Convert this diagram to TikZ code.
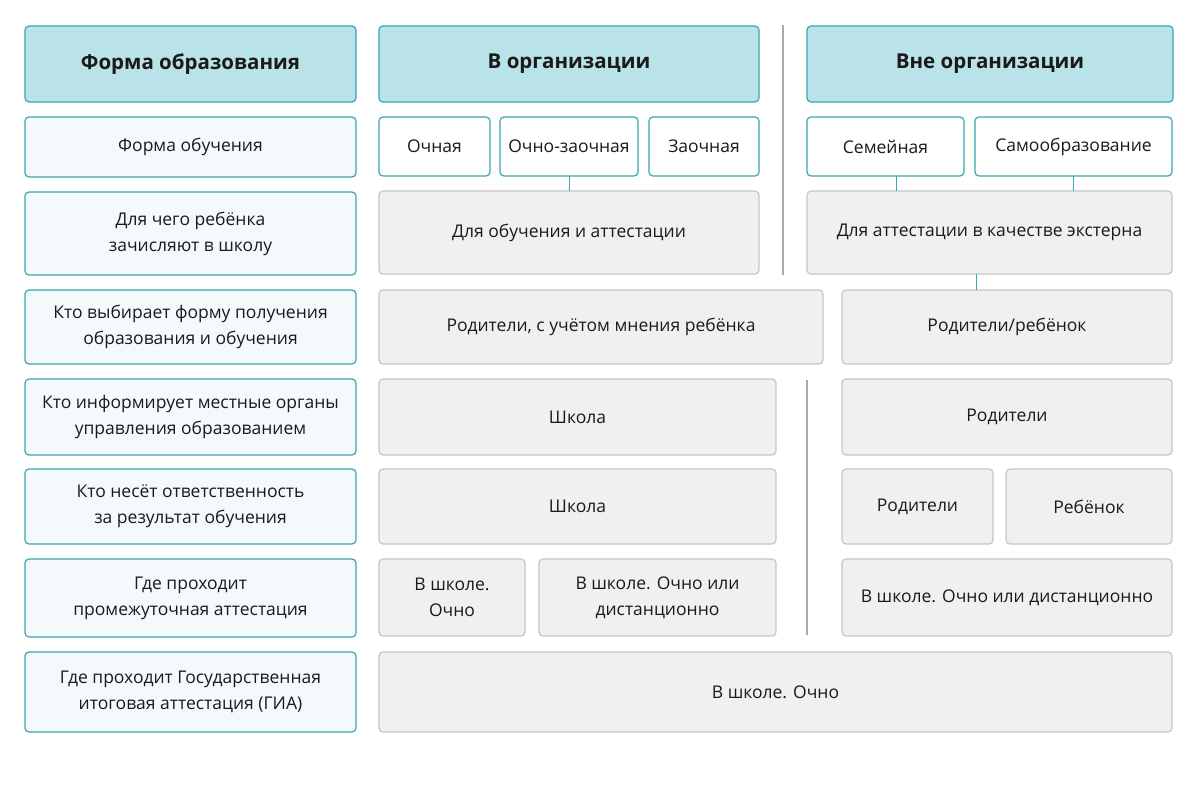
\documentclass[tikz,border=0pt]{standalone}
\usepackage{fontspec}
\setmainfont{Open Sans}
\definecolor{hdrfill}{HTML}{B9E3E8}
\definecolor{tealc}{HTML}{3AA6AE}
\definecolor{lblfill}{HTML}{F4FAFB}
\definecolor{grayfill}{HTML}{F0F0F0}
\definecolor{grayline}{HTML}{C6C6C6}
\definecolor{sepline}{HTML}{A2ACB3}
\definecolor{txt}{HTML}{1A1A1A}
\newcommand\mybox[7]{%
  \node[#1, minimum width={(#5-#3)*1pt}, minimum height={(#6-#4)*1pt}]
    (#2) at ({(#3+#5)/2},{(#4+#6)/2}) {#7};}
\tikzset{
  base/.style={rectangle, rounded corners=4pt, inner sep=0pt, outer sep=0pt,
    line width=1.2pt, align=center, text=txt, font=\fontsize{17.5}{26}\selectfont},
  hdr/.style={base, draw=tealc, fill=hdrfill, font=\fontsize{20.5}{24}\selectfont\bfseries},
  lbl/.style={base, draw=tealc, fill=lblfill},
  opt/.style={base, draw=tealc, fill=white},
  cell/.style={base, draw=grayline, fill=grayfill},
  conn/.style={draw=tealc, line width=1pt},
  sep/.style={draw=sepline, line width=1.2pt}
}
\begin{document}
\begin{tikzpicture}[x=1pt,y=-1pt]
\useasboundingbox[fill=white] (0,0) rectangle (1200,800);
% left labels
\mybox{hdr}{h1}{25}{26}{356}{102}{Форма образования}
\mybox{lbl}{l2}{25}{117}{356}{177}{Форма обучения}
\mybox{lbl}{l3}{25}{192}{356}{275}{Для чего ребёнка\\зачисляют в школу}
\mybox{lbl}{l4}{25}{290}{356}{364}{Кто выбирает форму получения\\образования и обучения}
\mybox{lbl}{l5}{25}{379}{356}{455}{Кто информирует местные органы\\управления образованием}
\mybox{lbl}{l6}{25}{469}{356}{544}{Кто несёт ответственность\\за результат обучения}
\mybox{lbl}{l7}{25}{559}{356}{637}{Где проходит\\промежуточная аттестация}
\mybox{lbl}{l8}{25}{652}{356}{732}{Где проходит Государственная\\итоговая аттестация (ГИА)}
% middle
\mybox{hdr}{h2}{379}{26}{759}{102}{В организации}
\mybox{opt}{och}{379}{117}{490}{176}{Очная}
\mybox{opt}{ochz}{500}{117}{638}{176}{Очно-заочная}
\mybox{opt}{zao}{649}{117}{759}{176}{Заочная}
\mybox{cell}{m3}{379}{191}{759}{274}{Для обучения и аттестации}
\mybox{cell}{m4}{379}{290}{823}{364}{Родители, с учётом мнения ребёнка}
\mybox{cell}{m5}{379}{379}{776}{455}{Школа}
\mybox{cell}{m6}{379}{469}{776}{544}{Школа}
\mybox{cell}{m7a}{379}{559}{525}{636}{В школе.\\Очно}
\mybox{cell}{m7b}{539}{559}{776}{636}{В школе. Очно или\\дистанционно}
\mybox{cell}{m8}{379}{652}{1172}{732}{В школе. Очно}
% right
\mybox{hdr}{h3}{807}{26}{1173}{102}{Вне организации}
\mybox{opt}{sem}{807}{117}{964}{176}{Семейная}
\mybox{opt}{sam}{975}{117}{1172}{176}{Самообразование}
\mybox{cell}{ext}{807}{191}{1172}{274}{Для аттестации в качестве экстерна}
\mybox{cell}{r4}{842}{290}{1172}{364}{Родители/ребёнок}
\mybox{cell}{r5}{842}{379}{1172}{455}{Родители}
\mybox{cell}{r6a}{842}{469}{993}{544}{Родители}
\mybox{cell}{r6b}{1006}{469}{1172}{544}{Ребёнок}
\mybox{cell}{r7}{842}{559}{1172}{636}{В школе. Очно или дистанционно}
% connectors
\draw[conn] (ochz.south) -- (m3.north);
\coordinate (cs) at (896,176);
\draw[conn] (cs) -- (cs |- ext.north);
\draw[conn] (sam.south) -- (sam.south |- ext.north);
\coordinate (ce) at (976,274);
\draw[conn] (ce) -- (ce |- r4.north);
% separators
\draw[sep] (783,25) -- (783,275);
\draw[sep] (807,380) -- (807,635);
\end{tikzpicture}
\end{document}
